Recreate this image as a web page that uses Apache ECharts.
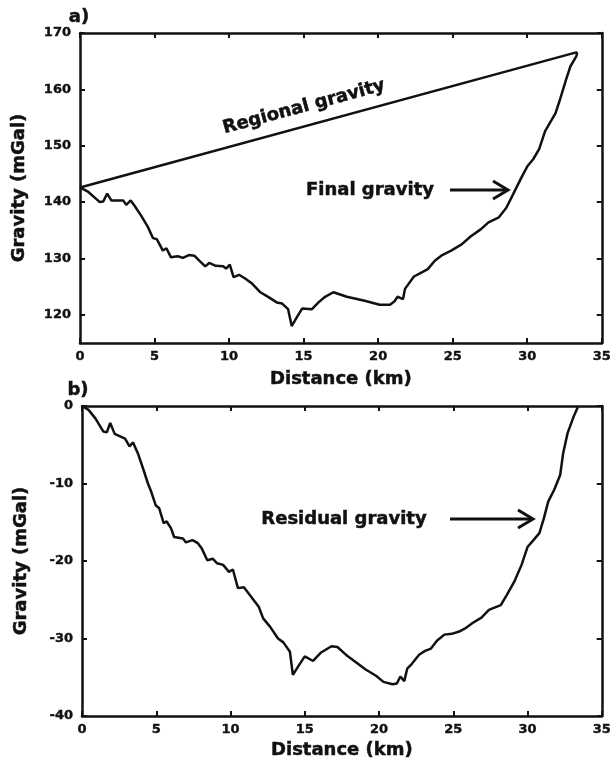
<!DOCTYPE html>
<html>
<head>
<meta charset="utf-8">
<style>
  html, body { margin: 0; padding: 0; background: #fff; }
  #main { width: 614px; height: 761px; }
</style>
<script src="https://cdn.jsdelivr.net/npm/echarts@6/dist/echarts.min.js"></script>
</head>
<body>
<div id="main"></div>
<script>
// a) final gravity along the profile
var finalDist = [0, 0.56, 1.33, 1.56, 1.82, 2.1, 2.9, 3.1, 3.4, 3.67, 4.1, 4.55, 4.9, 5.16, 5.56, 5.8, 6.1, 6.56, 6.9, 7.3, 7.67, 8.0, 8.4, 8.67, 9.1, 9.6, 9.8, 10.05, 10.3, 10.67, 11.1, 11.56, 12.1, 12.67, 13.2, 13.56, 13.96, 14.2, 14.55, 14.9, 15.56, 16.0, 16.44, 17.0, 17.9, 19.1, 20.1, 20.8, 21.1, 21.3, 21.67, 21.8, 22.4, 22.9, 23.33, 23.8, 24.3, 24.9, 25.6, 26.2, 26.9, 27.4, 28.1, 28.6, 29.0, 29.6, 30.0, 30.4, 30.8, 31.2, 31.6, 31.9, 32.2, 32.6, 32.9, 33.3, 33.35];
var finalGrav = [142.6, 141.8, 140.0, 140.1, 141.5, 140.3, 140.3, 139.5, 140.3, 139.3, 137.6, 135.6, 133.6, 133.4, 131.4, 131.8, 130.2, 130.4, 130.1, 130.6, 130.5, 129.6, 128.6, 129.2, 128.7, 128.6, 128.2, 128.9, 126.7, 127.1, 126.4, 125.5, 124.0, 123.1, 122.2, 122.0, 121.0, 118.0, 119.6, 121.1, 121.0, 122.2, 123.2, 124.0, 123.2, 122.5, 121.8, 121.8, 122.4, 123.2, 122.8, 124.6, 126.8, 127.5, 128.1, 129.6, 130.6, 131.4, 132.5, 133.9, 135.2, 136.4, 137.3, 139.0, 141.1, 144.3, 146.3, 147.6, 149.4, 152.6, 154.4, 155.8, 158.2, 161.7, 164.1, 165.9, 166.6];
// regional trend (straight line)
var regionalDist = [0, 33.35];
var regionalGrav = [142.6, 166.6];

// b) residual gravity
var resDist = [0, 0.44, 0.9, 1.44, 1.67, 1.9, 2.2, 2.9, 3.2, 3.44, 3.8, 4.1, 4.44, 4.67, 4.96, 5.2, 5.5, 5.7, 6.0, 6.2, 6.8, 7.0, 7.44, 7.8, 8.07, 8.44, 8.8, 9.1, 9.5, 9.9, 10.16, 10.5, 10.9, 11.3, 11.9, 12.2, 12.67, 13.2, 13.56, 14.0, 14.2, 14.56, 15.0, 15.56, 16.1, 16.8, 17.2, 17.9, 18.4, 19.1, 19.8, 20.3, 20.9, 21.2, 21.44, 21.7, 21.9, 22.2, 22.7, 23.1, 23.5, 23.9, 24.4, 24.9, 25.4, 25.8, 26.3, 26.9, 27.4, 28.2, 28.6, 29.1, 29.6, 30.0, 30.4, 30.8, 31.1, 31.4, 31.8, 32.2, 32.4, 32.7, 33.1, 33.4];
var resGrav = [0, -0.5, -1.6, -3.3, -3.4, -2.2, -3.6, -4.2, -5.2, -4.7, -6.3, -8.0, -10.0, -11.1, -12.8, -13.2, -15.1, -14.9, -15.8, -16.9, -17.1, -17.6, -17.3, -17.7, -18.4, -19.9, -19.7, -20.3, -20.5, -21.4, -21.1, -23.5, -23.4, -24.4, -25.9, -27.4, -28.5, -30.0, -30.5, -31.7, -34.7, -33.6, -32.3, -32.9, -31.8, -31.0, -31.1, -32.3, -33.0, -34.0, -34.8, -35.6, -35.9, -35.8, -34.9, -35.5, -33.9, -33.3, -32.1, -31.6, -31.3, -30.3, -29.5, -29.4, -29.1, -28.7, -28.0, -27.3, -26.3, -25.7, -24.4, -22.7, -20.5, -18.2, -17.3, -16.4, -14.5, -12.3, -10.8, -8.9, -6.1, -3.5, -1.4, -0.1];

// tick labels
var distTicks = [0, 5, 10, 15, 20, 25, 30, 35];
var gravTicksA = [120, 130, 140, 150, 160, 170];
var gravTicksB = [-40, -30, -20, -10, 0];

var FONT = 'DejaVu Sans';
var INK = '#111';

function pairs(xs, ys) {
    var out = [];
    for (var i = 0; i < xs.length; i++) out.push([xs[i], ys[i]]);
    return out;
}

// one axis; "mirror" = top/right frame side with ticks only
function axis(gridIndex, pos, min, max, ticks, name, mirror, gap) {
    return {
        type: 'value',
        gridIndex: gridIndex,
        position: pos,
        min: min,
        max: max,
        name: mirror ? '' : name,
        nameLocation: 'middle',
        nameGap: gap || 24,
        nameTextStyle: { fontFamily: FONT, fontWeight: 'bold', fontSize: 18, color: INK, textBorderColor: INK, textBorderWidth: 0.5 },
        axisLine: { show: true, onZero: false, lineStyle: { color: INK, width: 2.5 } },
        axisTick: { show: true, inside: true, length: 5, customValues: ticks, lineStyle: { color: INK, width: 2 } },
        axisLabel: {
            show: !mirror,
            customValues: ticks,
            margin: (pos === 'left') ? 9 : 7,
            fontFamily: FONT, fontWeight: 'bold', fontSize: 13, color: INK,
            textBorderColor: INK, textBorderWidth: 0.4
        },
        splitLine: { show: false }
    };
}

function lineSeries(xi, yi, data) {
    return {
        type: 'line',
        xAxisIndex: xi,
        yAxisIndex: yi,
        data: data,
        showSymbol: false,
        symbol: 'none',
        silent: true,
        lineStyle: { color: INK, width: 2.5 },
        z: 3
    };
}

function label(x, y, text, rot) {
    return {
        type: 'text', x: x, y: y, rotation: rot || 0,
        style: {
            text: text, fill: INK, fontFamily: FONT, fontWeight: 'bold', fontSize: 18,
            stroke: INK, lineWidth: 0.5,
            align: 'center', verticalAlign: 'middle'
        }
    };
}

function arrow(x1, x2, y) {
    return [
        { type: 'line', shape: { x1: x1, y1: y, x2: x2 - 1, y2: y }, style: { stroke: INK, lineWidth: 3 } },
        { type: 'polyline', shape: { points: [[x2 - 15, y - 9], [x2, y], [x2 - 15, y + 9]] }, style: { stroke: INK, lineWidth: 3, fill: null } }
    ];
}

var chart = echarts.init(document.getElementById('main'), null, { renderer: 'canvas' });

chart.setOption({
    animation: false,
    backgroundColor: '#fff',
    grid: [
        { left: 80, top: 33, width: 525, height: 310 },
        { left: 82, top: 406, width: 525, height: 310 }
    ],
    xAxis: [
        axis(0, 'bottom', 0, 35, distTicks, 'Distance (km)', false, 27),
        axis(0, 'top', 0, 35, distTicks, '', true),
        axis(1, 'bottom', 0, 35, distTicks, 'Distance (km)', false, 25),
        axis(1, 'top', 0, 35, distTicks, '', true)
    ],
    yAxis: [
        axis(0, 'left', 115, 170, gravTicksA, 'Gravity (mGal)', false, 52),
        axis(0, 'right', 115, 170, gravTicksA, '', true),
        axis(1, 'left', -40, 0, gravTicksB, 'Gravity (mGal)', false, 52),
        axis(1, 'right', -40, 0, gravTicksB, '', true)
    ],
    series: [
        lineSeries(0, 0, pairs(regionalDist, regionalGrav)),
        lineSeries(0, 0, pairs(finalDist, finalGrav)),
        lineSeries(2, 2, pairs(resDist, resGrav))
    ],
    graphic: [
        label(79, 17, 'a)'),
        label(78, 390, 'b)'),
        label(304, 107, 'Regional gravity', 15.1 * Math.PI / 180),
        label(370, 190, 'Final gravity'),
        label(344, 519, 'Residual gravity')
    ].concat(arrow(450, 508, 190), arrow(450, 533, 519))
});
</script>
</body>
</html>
